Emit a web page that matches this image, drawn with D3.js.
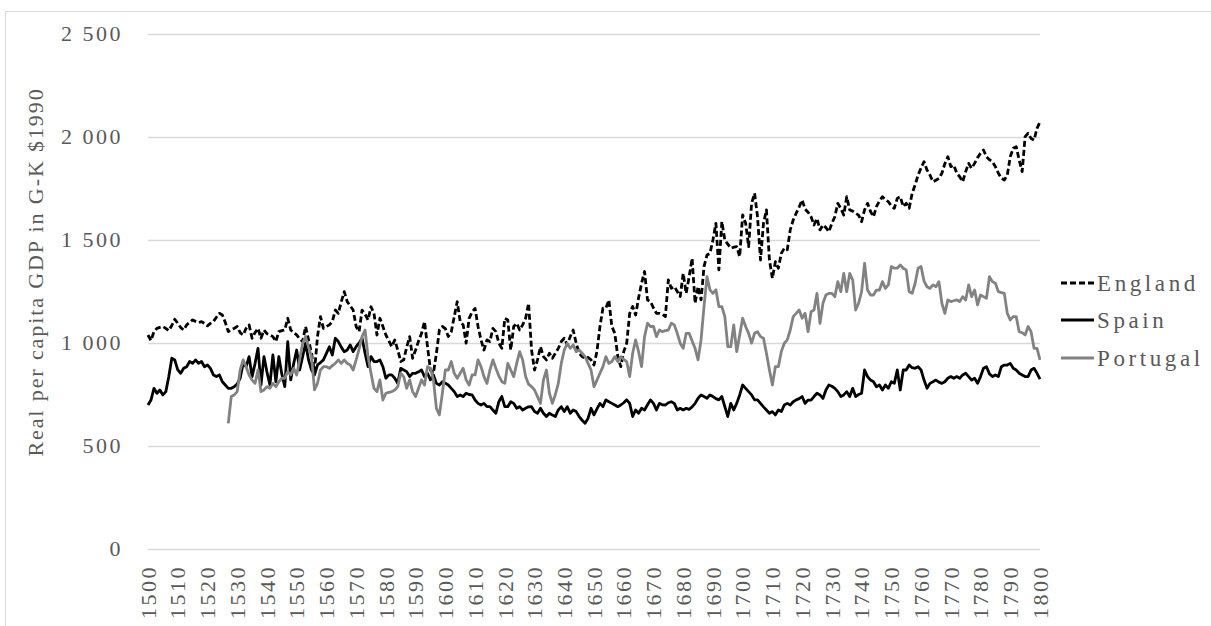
<!DOCTYPE html>
<html>
<head>
<meta charset="utf-8">
<script src="https://cdn.jsdelivr.net/npm/d3@7"></script>
<style>
  body { margin: 0; background: #fff; }
  text { font-family: "Liberation Serif", "Times New Roman", serif; fill: #595959; }
</style>
</head>
<body>
<div id="chart"></div>
<script>
// Real per capita GDP (G-K $1990), one value per year
var firstYear = 1500;
var lastYear = 1800;
var portugalStart = 1527;

var england = [
  1039, 1012, 1055, 1071, 1076, 1080, 1071, 1060, 1085, 1115,
  1096, 1075, 1063, 1088, 1100, 1112, 1105, 1099, 1104, 1095,
  1083, 1095, 1104, 1125, 1144, 1136, 1100, 1055, 1065, 1071,
  1080, 1050, 1039, 1071, 1088, 1023, 1050, 1071, 1023, 1063,
  1045, 1039, 1031, 1007, 1055, 1060, 1063, 1120, 1063, 1050,
  1039, 1020, 1007, 1080, 1015, 950, 861, 1031, 1128, 1071,
  1080, 1088, 1104, 1160, 1144, 1200, 1249, 1201, 1180, 1160,
  1080, 1055, 1160, 1140, 1112, 1176, 1144, 1039, 1120, 1080,
  1039, 1010, 982, 1015, 966, 910, 918, 980, 1031, 926,
  966, 1010, 1047, 1104, 982, 869, 853, 950, 1063, 1080,
  1070, 1031, 1055, 1128, 1201, 1104, 1088, 999, 1120, 1150,
  1168, 1080, 1015, 966, 1015, 1007, 1071, 1055, 1000, 974,
  1120, 1112, 966, 1080, 1096, 1063, 1088, 1120, 1193, 966,
  869, 918, 982, 934, 918, 950, 926, 950, 974, 1007,
  1023, 991, 1031, 1063, 999, 950, 934, 926, 930, 918,
  893, 960, 1080, 1169, 1169, 1209, 1080, 1047, 934, 885,
  958, 999, 1144, 1177, 1136, 1220, 1290, 1347, 1209, 1201,
  1170, 1144, 1144, 1140, 1128, 1306, 1266, 1274, 1250, 1225,
  1338, 1241, 1322, 1411, 1193, 1274, 1209, 1371, 1427, 1435,
  1500, 1581, 1355, 1589, 1500, 1480, 1460, 1465, 1468, 1419,
  1622, 1581, 1468, 1678, 1727, 1613, 1403, 1581, 1646, 1403,
  1314, 1395, 1363, 1435, 1460, 1452, 1549, 1597, 1630, 1660,
  1694, 1650, 1635, 1613, 1573, 1605, 1549, 1573, 1560, 1540,
  1581, 1613, 1678, 1654, 1621, 1710, 1646, 1640, 1630, 1621,
  1589, 1646, 1678, 1638, 1613, 1662, 1690, 1710, 1695, 1686,
  1665, 1654, 1702, 1710, 1662, 1678, 1654, 1727, 1767, 1815,
  1850, 1880, 1840, 1815, 1783, 1790, 1799, 1824, 1870, 1904,
  1856, 1864, 1824, 1807, 1783, 1832, 1872, 1848, 1872, 1900,
  1921, 1937, 1904, 1890, 1880, 1856, 1824, 1800, 1791, 1815,
  1904, 1945, 1953, 1888, 1832, 2002, 2018, 1993, 1985, 2042,
  2074
];

var spain = [
  699, 723, 780, 756, 772, 748, 764, 837, 926, 918,
  870, 853, 877, 885, 910, 901, 918, 901, 910, 885,
  893, 877, 845, 837, 845, 812, 796, 780, 780, 788,
  800, 829, 901, 885, 934, 837, 900, 974, 796, 934,
  860, 796, 942, 812, 934, 850, 788, 1007, 821, 900,
  966, 869, 934, 999, 918, 869, 845, 893, 905, 918,
  950, 982, 942, 1023, 1007, 980, 958, 966, 991, 958,
  982, 1000, 1023, 950, 885, 934, 910, 910, 918, 885,
  829, 845, 845, 829, 804, 877, 869, 861, 837, 853,
  853, 860, 869, 837, 853, 821, 845, 804, 796, 812,
  805, 796, 780, 764, 740, 748, 740, 756, 750, 748,
  723, 707, 699, 707, 691, 691, 675, 659, 715, 740,
  691, 691, 715, 707, 683, 691, 675, 683, 690, 691,
  667, 659, 683, 659, 643, 659, 650, 643, 675, 691,
  667, 691, 659, 675, 667, 643, 625, 610, 634, 683,
  651, 680, 707, 691, 724, 715, 707, 699, 691, 699,
  710, 724, 707, 643, 675, 659, 683, 675, 700, 724,
  707, 675, 707, 700, 699, 710, 715, 707, 675, 683,
  675, 683, 678, 690, 707, 732, 748, 740, 732, 748,
  740, 730, 724, 740, 691, 643, 707, 675, 707, 748,
  796, 780, 764, 748, 724, 724, 707, 690, 675, 659,
  667, 651, 675, 667, 699, 707, 699, 715, 724, 730,
  740, 707, 723, 723, 740, 756, 748, 731, 772, 796,
  790, 780, 764, 740, 748, 764, 740, 780, 740, 750,
  756, 869, 837, 820, 812, 788, 796, 772, 796, 780,
  812, 804, 869, 772, 869, 869, 893, 880, 877, 885,
  869, 820, 780, 804, 812, 820, 810, 804, 812, 829,
  837, 829, 837, 829, 845, 853, 837, 820, 829, 804,
  837, 877, 885, 850, 837, 845, 837, 885, 893, 893,
  901, 877, 869, 853, 845, 837, 837, 869, 877, 853,
  825
];

// Portugal starts in 1527
var portugal = [
  610, 740, 748,
  764, 869, 918, 885, 845, 820, 804, 869, 764, 772,
  788, 780, 804, 788, 812, 829, 829, 861, 845, 877,
  845, 918, 999, 1031, 980, 934, 772, 804, 869, 885,
  885, 877, 890, 901, 918, 901, 918, 901, 893, 869,
  918, 970, 1031, 1063, 934, 853, 780, 764, 821, 723,
  756, 760, 764, 772, 788, 853, 837, 780, 821, 764,
  740, 780, 821, 796, 885, 877, 821, 683, 651, 756,
  869, 869, 910, 853, 829, 853, 877, 821, 796, 845,
  845, 918, 885, 837, 804, 869, 918, 877, 840, 812,
  804, 901, 869, 837, 901, 958, 918, 837, 800, 788,
  772, 740, 707, 821, 869, 756, 707, 750, 804, 901,
  966, 999, 974, 991, 958, 966, 950, 934, 901, 869,
  788, 820, 853, 885, 934, 901, 910, 934, 910, 934,
  920, 910, 837, 950, 1015, 958, 885, 1031, 1096, 1080,
  1080, 1031, 1063, 1055, 1060, 1063, 1096, 1088, 1047, 999,
  974, 1047, 1047, 1010, 974, 918, 1015, 1177, 1322, 1258,
  1241, 1258, 1177, 1177, 1128, 982, 982, 1088, 958, 1039,
  1120, 1080, 1047, 999, 1047, 1055, 1031, 1023, 950, 869,
  796, 885, 885, 958, 999, 1015, 1063, 1128, 1144, 1160,
  1120, 1144, 1055, 1152, 1160, 1241, 1095, 1193, 1233, 1241,
  1241, 1225, 1298, 1249, 1338, 1249, 1338, 1306, 1160, 1193,
  1249, 1387, 1257, 1233, 1233, 1257, 1257, 1298, 1265, 1282,
  1371, 1363, 1363, 1379, 1363, 1355, 1249, 1241, 1290, 1363,
  1371, 1300, 1273, 1265, 1282, 1273, 1298, 1193, 1144, 1209,
  1201, 1205, 1209, 1201, 1225, 1209, 1282, 1225, 1257, 1185,
  1233, 1225, 1217, 1322, 1298, 1290, 1249, 1245, 1241, 1144,
  1112, 1128, 1128, 1055, 1050, 1039, 1080, 1055, 974, 974,
  918
];

var xTicks = d3.range(1500, 1801, 10);
var yTicks = [0, 500, 1000, 1500, 2000, 2500];
var yTickLabels = ["0", "500", "1 000", "1 500", "2 000", "2 500"];
var seriesNames = ["England", "Spain", "Portugal"];
var yTitle = "Real per capita GDP in G-K $1990";

// Define SVG area dimensions
var svgWidth = 1211;
var svgHeight = 626;

var margin = { top: 34, right: 171, bottom: 77, left: 148 };
var width = svgWidth - margin.left - margin.right;
var height = svgHeight - margin.top - margin.bottom;

var svg = d3.select("#chart")
  .append("svg")
  .attr("width", svgWidth)
  .attr("height", svgHeight);

// chart area border
svg.append("rect")
  .attr("x", 5.5)
  .attr("y", 11.5)
  .attr("width", 1230)
  .attr("height", 640)
  .attr("fill", "none")
  .attr("stroke", "#d9d9d9");

var chartGroup = svg.append("g")
  .attr("transform", `translate(${margin.left}, ${margin.top})`);

var xScale = d3.scaleLinear()
  .domain([firstYear, lastYear])
  .range([0, width]);

var yScale = d3.scaleLinear()
  .domain([0, 2500])
  .range([height, 0]);

// gridlines + y labels
var leftAxis = d3.axisLeft(yScale)
  .tickValues(yTicks)
  .tickSize(-width)
  .tickPadding(25)
  .tickFormat((d, i) => yTickLabels[i]);

var yAxisG = chartGroup.append("g").call(leftAxis);
yAxisG.select(".domain").remove();
yAxisG.selectAll("line").attr("stroke", "#d9d9d9").attr("stroke-width", 1.3);
yAxisG.selectAll("text")
  .style("font-size", "22px")
  .style("letter-spacing", "2.5px")
  .attr("dy", "0.3em");

// x labels, rotated
var bottomAxis = d3.axisBottom(xScale)
  .tickValues(xTicks)
  .tickSize(0)
  .tickFormat(d3.format("d"));

var xAxisG = chartGroup.append("g")
  .attr("transform", `translate(0, ${height})`)
  .call(bottomAxis);
xAxisG.select(".domain").remove();
xAxisG.selectAll("text")
  .attr("transform", "rotate(-90)")
  .attr("x", -16)
  .attr("y", 0)
  .attr("dy", "0.33em")
  .attr("text-anchor", "end")
  .style("font-size", "22px")
  .style("letter-spacing", "2.5px");

// lines
function seriesPoints(values, start) {
  return values.map((v, i) => ({ year: start + i, value: v }));
}

var line = d3.line()
  .x(d => xScale(d.year))
  .y(d => yScale(d.value));

var series = [
  { name: "England", points: seriesPoints(england, firstYear), color: "#000", dash: "6,3" },
  { name: "Spain", points: seriesPoints(spain, firstYear), color: "#000", dash: null },
  { name: "Portugal", points: seriesPoints(portugal, portugalStart), color: "#828282", dash: null }
];

chartGroup.selectAll(".series")
  .data(series)
  .enter()
  .append("path")
  .attr("class", "series")
  .attr("d", d => line(d.points))
  .attr("fill", "none")
  .attr("stroke", d => d.color)
  .attr("stroke-width", 2.8)
  .attr("stroke-dasharray", d => d.dash)
  .attr("stroke-linejoin", "round");

// legend
var legendY = [283, 320, 358];
var legend = svg.selectAll(".legend")
  .data(series)
  .enter()
  .append("g")
  .attr("class", "legend")
  .attr("transform", (d, i) => `translate(1061, ${legendY[i]})`);

legend.append("line")
  .attr("x1", 0)
  .attr("x2", 33)
  .attr("stroke", d => d.color)
  .attr("stroke-width", 2.8)
  .attr("stroke-dasharray", d => d.dash);

legend.append("text")
  .attr("x", 36)
  .attr("dy", "0.33em")
  .style("font-size", "23px")
  .style("letter-spacing", "3.6px")
  .text((d, i) => seriesNames[i]);

// y title
svg.append("text")
  .attr("transform", "rotate(-90)")
  .attr("x", -272)
  .attr("y", 43)
  .attr("text-anchor", "middle")
  .style("font-size", "22px")
  .style("letter-spacing", "1.9px")
  .text(yTitle);
</script>
</body>
</html>
